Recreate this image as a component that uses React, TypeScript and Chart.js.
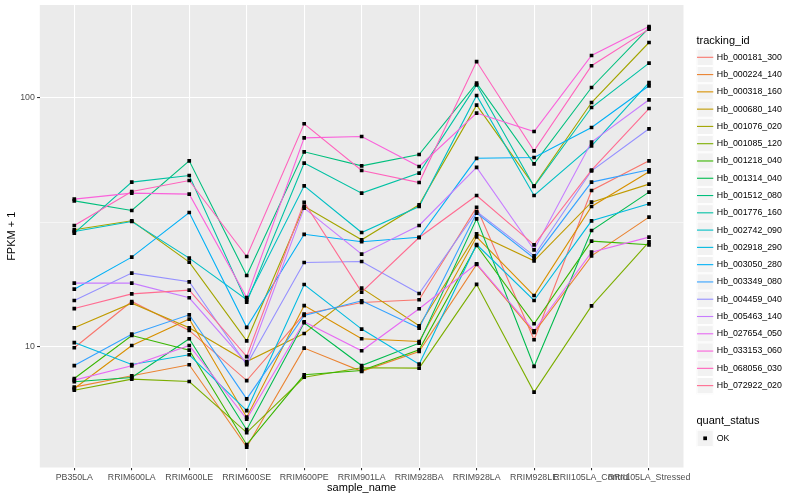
import React, { useEffect, useRef } from "react";
import { Chart, registerables } from "chart.js";

Chart.register(...registerables);

// ---------- data ----------
const categories = [
  "PB350LA",
  "RRIM600LA",
  "RRIM600LE",
  "RRIM600SE",
  "RRIM600PE",
  "RRIM901LA",
  "RRIM928BA",
  "RRIM928LA",
  "RRIM928LE",
  "RRII105LA_Control",
  "RRII105LA_Stressed",
];

const trackingIds = [
  "Hb_000181_300",
  "Hb_000224_140",
  "Hb_000318_160",
  "Hb_000680_140",
  "Hb_001076_020",
  "Hb_001085_120",
  "Hb_001218_040",
  "Hb_001314_040",
  "Hb_001512_080",
  "Hb_001776_160",
  "Hb_002742_090",
  "Hb_002918_290",
  "Hb_003050_280",
  "Hb_003349_080",
  "Hb_004459_040",
  "Hb_005463_140",
  "Hb_027654_050",
  "Hb_033153_060",
  "Hb_068056_030",
  "Hb_072922_020",
];

const hb_000181_300 = [9.91, 15.2, 11.63, 7.32, 13.53, 15.06, 15.44, 36.28, 10.67, 42.36, 55.73];
const hb_000224_140 = [6.89, 7.65, 8.47, 3.96, 9.88, 7.97, 9.58, 21.42, 11.41, 23.17, 33.13];
const hb_000318_160 = [6.8, 10.12, 12.92, 5.22, 14.64, 10.77, 10.5, 27.62, 16.06, 36.55, 50.35];
const hb_000680_140 = [11.92, 14.97, 11.92, 8.73, 11.31, 17.2, 12.14, 28.4, 22.13, 38.05, 44.93];
const hb_001076_020 = [29.46, 32.02, 21.86, 10.57, 36.61, 26.87, 37.12, 93.2, 44.24, 95.48, 166.2];
const hb_001085_120 = [6.7, 7.42, 7.26, 4.53, 7.55, 8.24, 8.21, 17.81, 6.58, 14.6, 26.38];
const hb_001218_040 = [7.46, 11.1, 9.7, 4.05, 7.72, 8.03, 9.73, 25.49, 12.37, 26.55, 25.65];
const hb_001314_040 = [7.24, 7.53, 10.77, 4.65, 12.49, 8.41, 10.34, 32.61, 8.34, 29.27, 41.73];
const hb_001512_080 = [38.5, 35.22, 55.73, 19.32, 60.55, 53.21, 59.06, 114.2, 54.21, 109.7, 190.4];
const hb_001776_160 = [28.58, 45.78, 48.66, 15.11, 54.56, 41.35, 49.76, 112.4, 43.95, 91.17, 137.4];
const hb_002742_090 = [29.0, 31.81, 22.68, 15.44, 44.24, 28.74, 36.55, 101.9, 40.45, 64.02, 114.8];
const hb_002918_290 = [10.4, 8.49, 9.29, 5.55, 17.78, 11.78, 8.52, 25.72, 15.34, 32.02, 37.46];
const hb_003050_280 = [17.03, 22.89, 34.57, 11.97, 28.27, 26.38, 27.49, 57.03, 57.46, 75.8, 111.4];
const hb_003349_080 = [8.41, 11.24, 13.44, 6.18, 13.35, 15.29, 11.89, 34.38, 22.68, 45.78, 51.29];
const hb_004459_040 = [15.34, 19.75, 18.23, 8.47, 21.78, 21.99, 16.36, 34.89, 23.17, 50.82, 74.89];
const hb_005463_140 = [18.01, 18.0, 15.73, 8.6, 36.01, 23.53, 30.67, 52.48, 24.5, 66.24, 97.9];
const hb_027654_050 = [7.35, 8.39, 10.12, 5.13, 12.6, 9.64, 14.21, 21.52, 11.6, 23.98, 27.54];
const hb_033153_060 = [39.13, 41.35, 40.97, 15.77, 68.9, 69.75, 52.87, 86.6, 73.05, 147.4, 192.7];
const hb_068056_030 = [30.67, 41.97, 46.47, 23.02, 78.45, 50.96, 45.6, 139.4, 61.1, 134.1, 188.1];
const hb_072922_020 = [14.24, 16.31, 16.88, 9.14, 37.98, 16.57, 27.44, 40.45, 25.65, 51.15, 90.32];

const seriesValues = [
  hb_000181_300,
  hb_000224_140,
  hb_000318_160,
  hb_000680_140,
  hb_001076_020,
  hb_001085_120,
  hb_001218_040,
  hb_001314_040,
  hb_001512_080,
  hb_001776_160,
  hb_002742_090,
  hb_002918_290,
  hb_003050_280,
  hb_003349_080,
  hb_004459_040,
  hb_005463_140,
  hb_027654_050,
  hb_033153_060,
  hb_068056_030,
  hb_072922_020,
];

const quantStatus = ["OK"];

const yMajorTicks = [10, 100];
const yMinorTicks = [31.623];
const yMin = 3.28;
const yMax = 235;

// ---------- styles ----------
const palette = [
  "#F8766D", "#EA8331", "#D89000", "#C09B00", "#A3A500",
  "#7CAE00", "#39B600", "#00BB4E", "#00BF7D", "#00C1A3",
  "#00BFC4", "#00BAE0", "#00B0F6", "#35A2FF", "#9590FF",
  "#C77CFF", "#E76BF3", "#FA62DB", "#FF62BC", "#FF6C91",
];

const FONT = "'Liberation Sans', Arial, Helvetica, sans-serif";

const panelBackground = {
  id: "panelBackground",
  beforeDraw(chart: any) {
    const { ctx, chartArea: a } = chart;
    ctx.save();
    ctx.fillStyle = "#EBEBEB";
    ctx.fillRect(a.left, a.top, a.right - a.left, a.bottom - a.top);
    ctx.restore();
  },
};

const ggLegend = {
  id: "ggLegend",
  afterDraw(chart: any) {
    const ctx = chart.ctx;
    const x0 = 696.5;
    const key = 17.28;
    const textX = x0 + key + 3;
    ctx.save();
    ctx.textAlign = "left";
    ctx.textBaseline = "middle";

    ctx.fillStyle = "#000000";
    ctx.font = `11px ${FONT}`;
    ctx.fillText("tracking_id", x0, 40.5);

    ctx.font = `8.8px ${FONT}`;
    trackingIds.forEach((id, i) => {
      const cy = 57.3 + i * key;
      const top = cy - key / 2;
      ctx.fillStyle = "#F2F2F2";
      ctx.fillRect(x0, top, key, key);
      ctx.strokeStyle = "#FFFFFF";
      ctx.lineWidth = 1;
      ctx.strokeRect(x0 + 0.5, top + 0.5, key - 1, key - 1);
      ctx.strokeStyle = palette[i];
      ctx.lineWidth = 1.1;
      ctx.beginPath();
      ctx.moveTo(x0 + 0.5, cy);
      ctx.lineTo(x0 + key - 0.5, cy);
      ctx.stroke();
      ctx.fillStyle = "#000000";
      ctx.fillText(id, textX, cy);
    });

    ctx.font = `11px ${FONT}`;
    ctx.fillStyle = "#000000";
    ctx.fillText("quant_status", x0, 421);
    ctx.font = `8.8px ${FONT}`;
    quantStatus.forEach((s, i) => {
      const cy = 438.3 + i * key;
      const top = cy - key / 2;
      ctx.fillStyle = "#F2F2F2";
      ctx.fillRect(x0, top, key, key);
      ctx.strokeStyle = "#FFFFFF";
      ctx.lineWidth = 1;
      ctx.strokeRect(x0 + 0.5, top + 0.5, key - 1, key - 1);
      ctx.fillStyle = "#000000";
      ctx.fillRect(x0 + key / 2 - 1.85, cy - 1.85, 3.7, 3.7);
      ctx.fillText(s, textX, cy);
    });
    ctx.restore();
  },
};

export default function App() {
  const canvasRef = useRef<HTMLCanvasElement | null>(null);

  useEffect(() => {
    if (!canvasRef.current) return;

    const lineDatasets = seriesValues.map((vals, i) => ({
      type: "line" as const,
      label: trackingIds[i],
      data: vals.map((v, j) => ({ x: j, y: v })),
      borderColor: palette[i],
      backgroundColor: palette[i],
      borderWidth: 1.1,
      pointRadius: 0,
      pointHoverRadius: 0,
      fill: false,
      tension: 0,
      order: 100 - i,
    }));

    const pointDataset = {
      type: "scatter" as const,
      label: quantStatus[0],
      data: seriesValues.flatMap((vals) => vals.map((v, j) => ({ x: j, y: v }))),
      pointStyle: "rect",
      pointRadius: 2.6,
      pointHoverRadius: 2.6,
      backgroundColor: "#000000",
      borderColor: "#000000",
      borderWidth: 0,
      showLine: false,
      order: 0,
    };

    const chart = new Chart(canvasRef.current, {
      type: "line",
      data: { datasets: [...lineDatasets, pointDataset] as any },
      options: {
        animation: false,
        responsive: false,
        maintainAspectRatio: false,
        events: [],
        layout: { padding: { left: 0, right: 116.5, top: 5, bottom: 0 } },
        plugins: {
          legend: { display: false },
          tooltip: { enabled: false },
        },
        scales: {
          x: {
            type: "linear",
            min: -0.6,
            max: 10.6,
            bounds: "data",
            afterBuildTicks: (s: any) => {
              s.ticks = categories.map((_, i) => ({ value: i }));
            },
            afterFit: (s: any) => {
              s.height = 32.5;
              s.paddingLeft = 0;
              s.paddingRight = 0;
            },
            ticks: {
              autoSkip: false,
              maxRotation: 0,
              minRotation: 0,
              padding: 2.2,
              color: "#4D4D4D",
              font: { family: FONT, size: 8.8 },
              callback: (v: any) => categories[v as number] ?? "",
            },
            grid: {
              color: "#FFFFFF",
              lineWidth: 1.07,
              drawTicks: true,
              tickLength: 2.75,
              tickColor: "#333333",
              tickWidth: 1.07,
            },
            border: { display: false },
            title: {
              display: true,
              text: "sample_name",
              color: "#000000",
              font: { family: FONT, size: 11 },
              padding: { top: 0, bottom: 5.5 },
            },
          },
          y: {
            type: "logarithmic",
            min: yMin,
            max: yMax,
            bounds: "data",
            afterBuildTicks: (s: any) => {
              s.ticks = [...yMajorTicks, ...yMinorTicks]
                .sort((a, b) => a - b)
                .map((v) => ({ value: v }));
            },
            afterFit: (s: any) => {
              s.width = 39.8;
              s.paddingTop = 0;
              s.paddingBottom = 0;
            },
            ticks: {
              autoSkip: false,
              padding: 2.2,
              color: "#4D4D4D",
              font: { family: FONT, size: 8.8 },
              callback: (v: any) => (yMajorTicks.includes(v as number) ? String(v) : ""),
            },
            grid: {
              color: "#FFFFFF",
              lineWidth: (c: any) =>
                c.tick && yMinorTicks.includes(c.tick.value) ? 0.53 : 1.07,
              drawTicks: true,
              tickLength: 2.75,
              tickWidth: 1.07,
              tickColor: (c: any) =>
                c.tick && yMinorTicks.includes(c.tick.value) ? "rgba(0,0,0,0)" : "#333333",
            },
            border: { display: false },
            title: {
              display: true,
              text: "FPKM + 1",
              color: "#000000",
              font: { family: FONT, size: 11 },
              padding: { top: 5.4, bottom: 0 },
            },
          },
        },
      },
      plugins: [panelBackground, ggLegend],
    } as any);

    return () => chart.destroy();
  }, []);

  return (
    <div style={{ position: "absolute", left: 0, top: 0, width: 800, height: 500, background: "#FFFFFF" }}>
      <canvas ref={canvasRef} width={800} height={500} style={{ display: "block" }} />
    </div>
  );
}
